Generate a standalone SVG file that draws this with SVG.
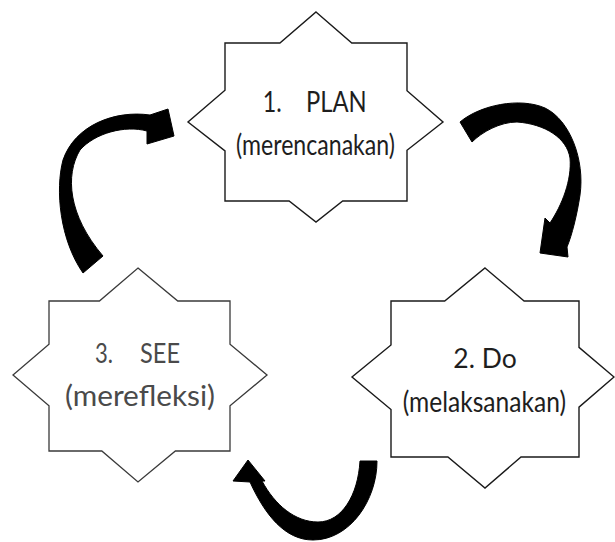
<svg xmlns="http://www.w3.org/2000/svg" width="615" height="542" viewBox="0 0 615 542">
<style>
.star{fill:#fff;stroke:#1a1a1a;stroke-width:1.4;stroke-linejoin:miter}
.star3{fill:#fff;stroke:#3a3a3a;stroke-width:1.3;stroke-linejoin:miter}
.t{font-family:Lato,"Open Sans","Liberation Sans",sans-serif;fill:#1e1e1e}
.t3{font-family:Lato,"Open Sans","Liberation Sans",sans-serif;fill:#4a4a4a}
.arrow{fill:#000;stroke:#000;stroke-width:1;stroke-linejoin:round}
</style>
<rect width="615" height="542" fill="#fff"/>
<g id="connectors">
<path id="arrow-see-plan" class="arrow" d="M83,273 C60,240 55,190 63,160 C75,125 115,110 150,115 L168,109 L174,136 L147,144 L147,131 C125,125 95,133 80,150 C65,175 68,215 103,256 Z"/>
<path id="arrow-plan-do" class="arrow" d="M460,122 C480,105 520,97 545,108 C570,120 585,160 580,195 C577,215 572,235 567,247 L568,257 L540,253 L545,218 L550,223 C562,205 572,180 570,158 C567,138 545,124 517,122 C500,122 482,132 472,142 Z"/>
<path id="arrow-do-see" class="arrow" d="M377,461 C377,500 350,540 313,540 C285,540 265,515 250,482 L233,481 L248,460 L265,481 L262,481 C275,505 295,522 318,522 C342,522 358,495 360,461 Z"/>
</g>
<g id="node-plan">
<polygon class="star" points="316,12 351.8,43 407,43 407,90.8 443,122 407,150.3 407,201 342.7,201 316,222 289.1,201 225,201 225,150.9 188,122 225,90.2 225,43 279.9,43"/>
<text class="t" x="262.7" y="111.7" font-size="28" textLength="19" lengthAdjust="spacingAndGlyphs">1.</text>
<text class="t" x="306" y="111.7" font-size="28" textLength="60.7" lengthAdjust="spacingAndGlyphs">PLAN</text>
<text class="t" x="236" y="155" font-size="28" textLength="159" lengthAdjust="spacingAndGlyphs">(merencanakan)</text>
</g>
<g id="node-do">
<polygon class="star" points="485,268 524.1,301 579,301 579,347.4 614,377 579,407.1 579,457 521,457 485,488 447.9,457 391,457 391,409.5 352,377 391,345 391,301 444.7,301"/>
<text class="t" x="453.3" y="368.3" font-size="26" textLength="63.4" lengthAdjust="spacingAndGlyphs">2. Do</text>
<text class="t" x="402.7" y="412" font-size="28" textLength="163.3" lengthAdjust="spacingAndGlyphs">(melaksanakan)</text>
</g>
<g id="node-see">
<polygon class="star3" points="138,268 177.8,301 230,301 230,344.3 267,375 230,405.7 230,451 175.4,451 138,482 101.8,451 49,451 49,405.8 13,375 49,344.2 49,301 99.4,301"/>
<text class="t3" x="95" y="363" font-size="27" textLength="18" lengthAdjust="spacingAndGlyphs">3.</text>
<text class="t3" x="140" y="363" font-size="27" textLength="40" lengthAdjust="spacingAndGlyphs">SEE</text>
<text class="t3" x="65" y="406" font-size="28" textLength="150" lengthAdjust="spacingAndGlyphs">(merefleksi)</text>
</g>
</svg>
